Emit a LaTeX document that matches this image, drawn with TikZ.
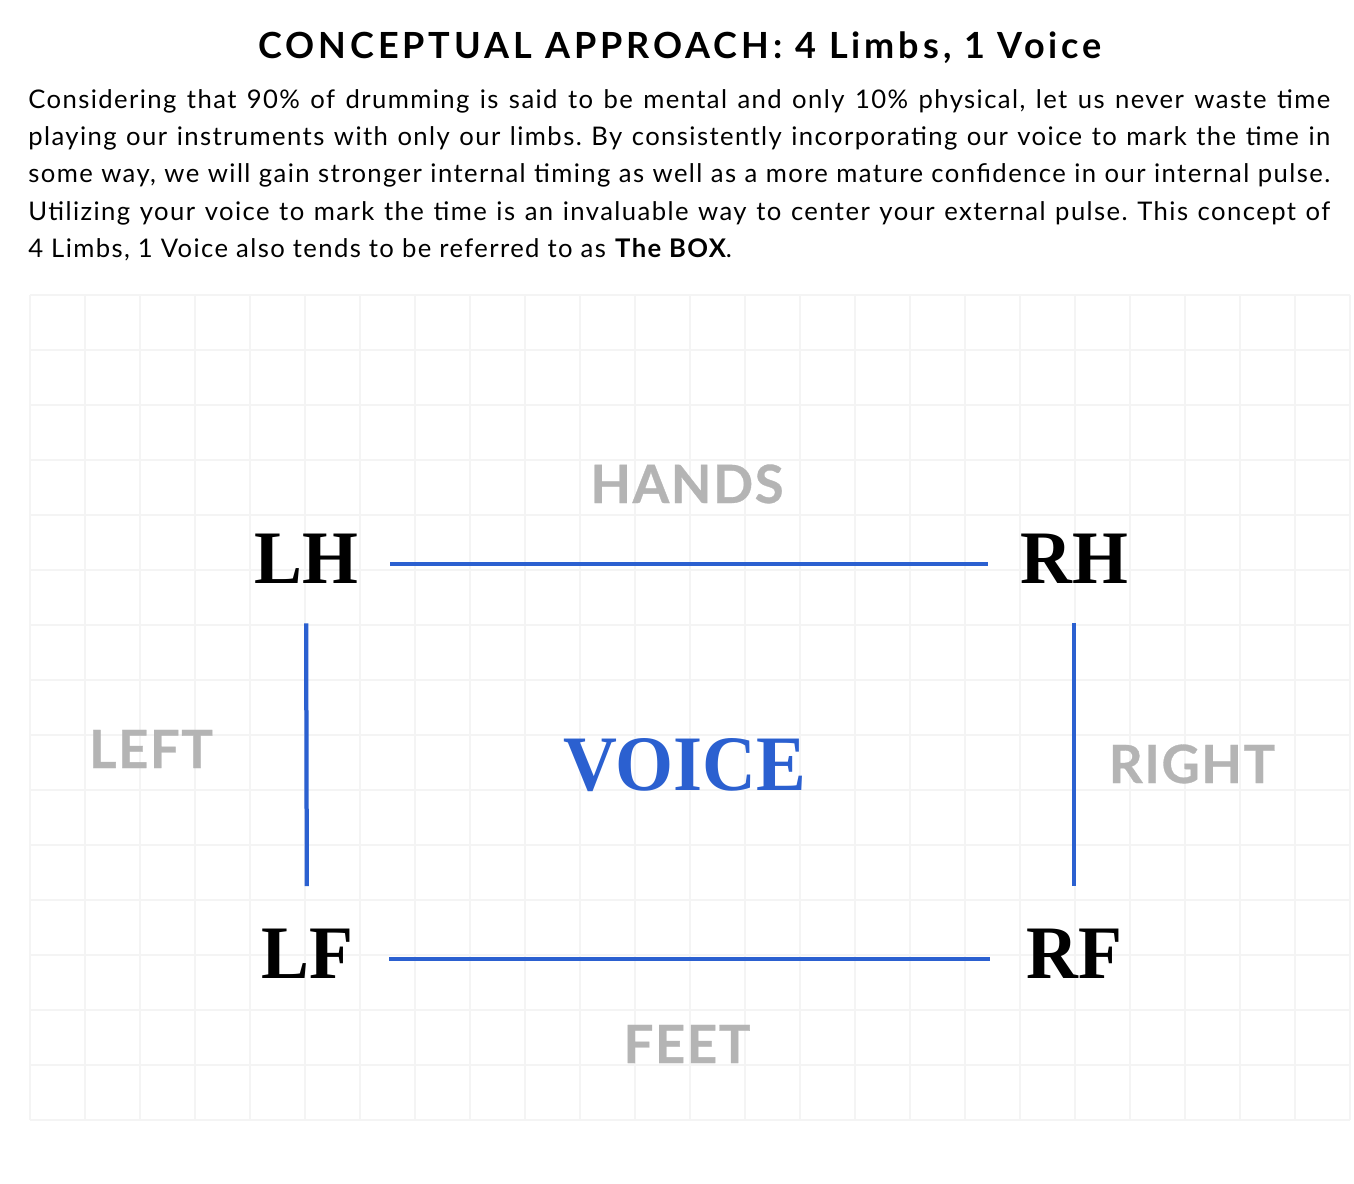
\documentclass[tikz,border=0pt]{standalone}
\usepackage{fontspec}
\setmainfont{Lato}
\newfontfamily\limbfont[FakeStretch=0.95]{Liberation Serif}
\newfontfamily\headfont[LetterSpace=11]{Lato}
\newfontfamily\bodyfont[LetterSpace=5.5]{Lato}
\newfontfamily\sidefont[LetterSpace=3,FakeBold=0.6]{Lato}
\usepackage{xcolor}
\usepackage{tikz}
\frenchspacing
\definecolor{boxBlue}{RGB}{43,96,208}
\definecolor{labelGray}{RGB}{180,180,180}
\definecolor{gridGray}{RGB}{244,244,244}
\tikzset{
  title/.style={inner sep=0pt,anchor=base,font=\headfont\bfseries\fontsize{20.5}{24}\selectfont},
  para/.style={inner sep=0pt,anchor=base west,text width=26.04cm,align=justify,
               font=\bodyfont\fontsize{14.6}{21.3}\selectfont},
  limb/.style={inner sep=0pt,anchor=base,text depth=0.24cm,
               font=\limbfont\bfseries\fontsize{43}{43}\selectfont},
  voice/.style={inner sep=0pt,anchor=base,text=boxBlue,
                font=\limbfont\bfseries\fontsize{44.7}{45}\selectfont},
  side/.style={inner sep=0pt,anchor=base,text=labelGray,
               font=\sidefont\bfseries\fontsize{30}{30}\selectfont},
  link/.style={boxBlue,line width=0.085cm},
  hlink/.style={link,shorten <=0.64cm,shorten >=0.64cm},
  vlink/.style={link,shorten <=0.56cm,shorten >=0.84cm},
  gridline/.style={gridGray,line width=0.03cm},
}
\begin{document}
\begin{tikzpicture}[x=0.02cm,y=-0.02cm]
  \fill[white] (0,0) rectangle (1354,1183);
  \useasboundingbox (0,0) rectangle (1354,1183);

  % faint grid behind the box
  \foreach \gx in {30,85,...,1350} \draw[gridline] (\gx,295) -- (\gx,1120);
  \foreach \gy in {295,350,...,1120} \draw[gridline] (30,\gy) -- (1350,\gy);

  \node[title] (head) at (680,58) {CONCEPTUAL APPROACH: 4 Limbs, 1 Voice};
  \node[para]  (intro) at (28,108) {Considering that 90\% of drumming is said to be mental and only 10\% physical, let us never waste time\linebreak
    playing our instruments with only our limbs. By consistently incorporating our voice to mark the time in\linebreak
    some way, we will gain stronger internal timing as well as a more mature confidence in our internal pulse.\linebreak
    Utilizing your voice to mark the time is an invaluable way to center your external pulse. This concept of\linebreak
    4 Limbs, 1 Voice also tends to be referred to as \textbf{The BOX}.};

  \node[limb] (lh) at (306,583)  {LH};
  \node[limb] (rh) at (1074,583) {RH};
  \node[limb] (lf) at (307,978)  {LF};
  \node[limb] (rf) at (1074,978) {RF};
  \node[voice] (voice) at (685,790) {VOICE};

  \node[side] (hands) at (687,503)  {HANDS};
  \node[side] (left)  at (151,768)  {LEFT};
  \node[side] (right) at (1192,783) {RIGHT};
  \node[side] (feet)  at (687,1063) {FEET};

  \draw[hlink] (lh) -- (rh);
  \draw[hlink,shorten <=0.72cm,shorten >=0.72cm] (lf) -- (rf);
  \draw[vlink] (lh) -- (lf);
  \draw[vlink] (rh) -- (rf);
\end{tikzpicture}
\end{document}
